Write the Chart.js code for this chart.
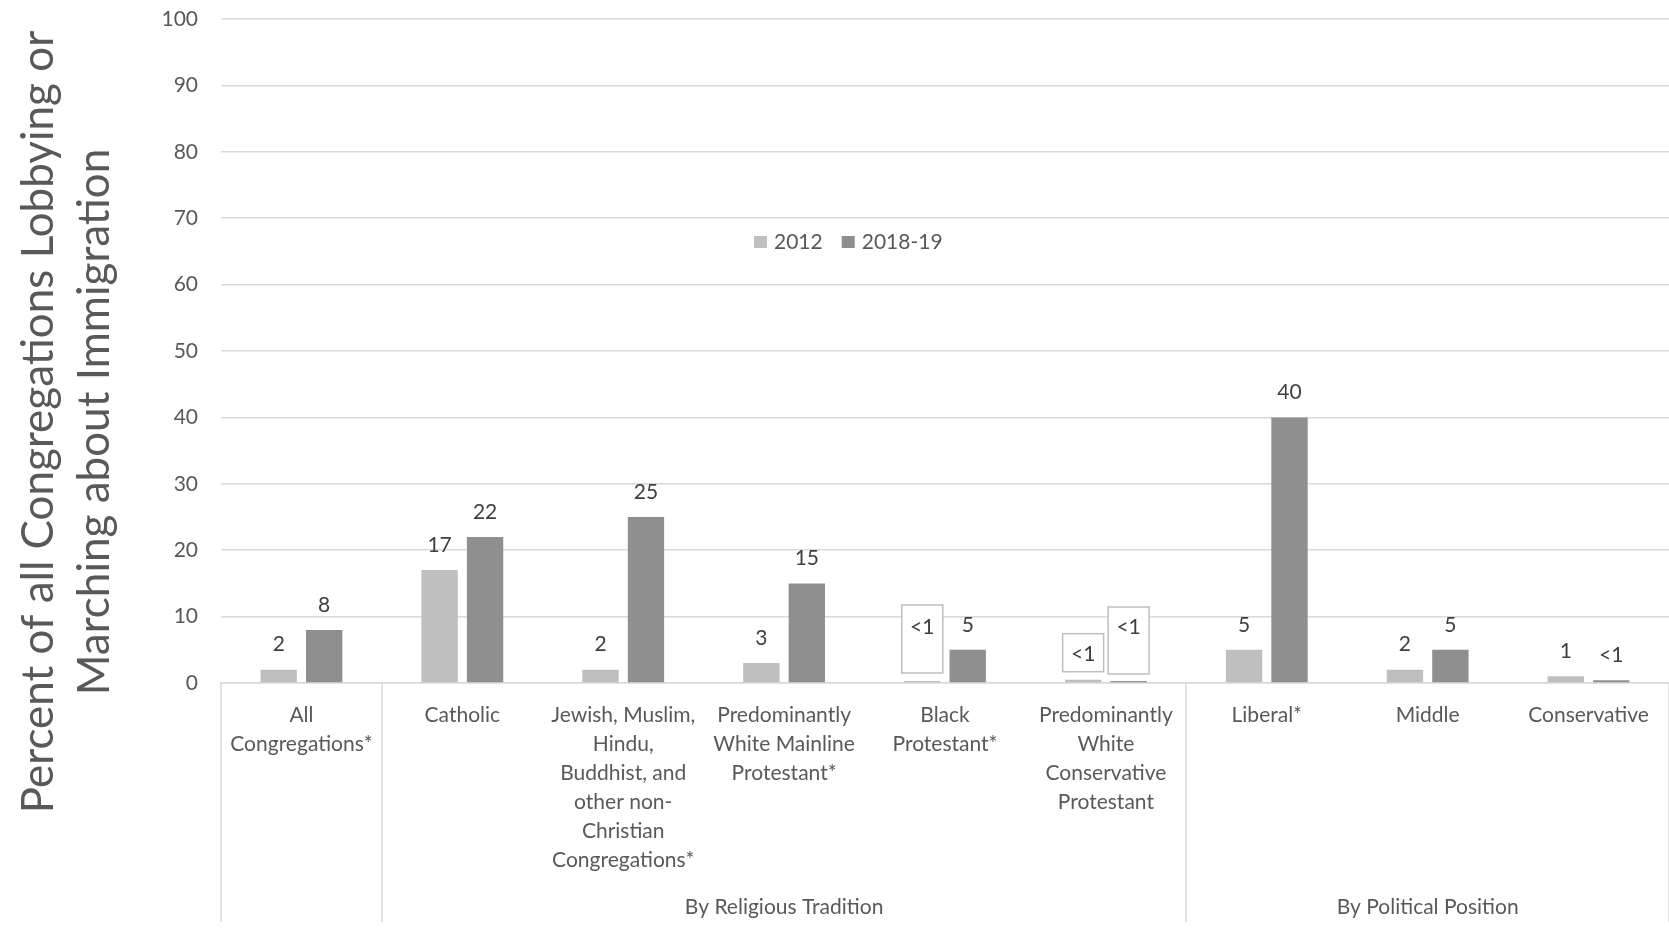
<!DOCTYPE html>
<html>
<head>
<meta charset="utf-8">
<script src="https://cdn.jsdelivr.net/npm/chart.js@4.4.1/dist/chart.umd.min.js"></script>
<style>
  html, body { margin: 0; padding: 0; background: #ffffff; }
  #wrap { width: 1669px; height: 935px; position: relative; }
</style>
</head>
<body>
<div id="wrap"><canvas id="chart"></canvas></div>
<script>
// Category labels (multi-line) for the lower axis
const categories = [
  ['All', 'Congregations*'],
  ['Catholic'],
  ['Jewish, Muslim,', 'Hindu,', 'Buddhist, and', 'other non-', 'Christian', 'Congregations*'],
  ['Predominantly', 'White Mainline', 'Protestant*'],
  ['Black', 'Protestant*'],
  ['Predominantly', 'White', 'Conservative', 'Protestant'],
  ['Liberal*'],
  ['Middle'],
  ['Conservative']
];

// Series
const seriesNames = ['2012', '2018-19'];
const values2012 = [2, 17, 2, 3, 0.3, 0.5, 5, 2, 1];
const values2018 = [8, 22, 25, 15, 5, 0.3, 40, 5, 0.4];

// Outer grouping of the categories
const groupNames = ['', 'By Religious Tradition', 'By Political Position'];
const groupFirst = [0, 1, 6];
const groupLast  = [0, 5, 8];

// Value axis
const yTicks = [0, 10, 20, 30, 40, 50, 60, 70, 80, 90, 100];
const axisTitle = ['Percent of all Congregations Lobbying or', 'Marching about Immigration'];

const FONT = 'Lato';
const TEXT = '#595959';
const LABEL = '#404040';
const LINE = '#d9d9d9';
const COLORS = ['#bfbfbf', '#8f8f8f'];

// Labels that sit in outlined callout boxes: lift of text centre above bar top, box extents around text centre
const boxedLabels = [
  { dataset: 0, index: 4, lift: 54, up: 22, down: 46 },
  { dataset: 0, index: 5, lift: 25, up: 21, down: 17 },
  { dataset: 1, index: 5, lift: 54, up: 20, down: 47 }
];

const fmt = v => (v < 1 ? '<1' : String(v));

const decorations = {
  id: 'decorations',
  afterDatasetsDraw(chart) {
    const ctx = chart.ctx;
    ctx.save();
    ctx.font = `21px ${FONT}`;
    ctx.textAlign = 'center';
    ctx.textBaseline = 'middle';
    chart.data.datasets.forEach((ds, di) => {
      const meta = chart.getDatasetMeta(di);
      meta.data.forEach((bar, i) => {
        const text = fmt(ds.data[i]);
        const box = boxedLabels.find(b => b.dataset === di && b.index === i);
        if (box) {
          const ty = bar.y - box.lift;
          const w = 41;
          ctx.fillStyle = '#ffffff';
          ctx.fillRect(bar.x - w / 2, ty - box.up, w, box.up + box.down);
          ctx.strokeStyle = '#bfbfbf';
          ctx.lineWidth = 1.5;
          ctx.strokeRect(bar.x - w / 2, ty - box.up, w, box.up + box.down);
          ctx.fillStyle = LABEL;
          ctx.fillText(text, bar.x, ty);
        } else {
          ctx.fillStyle = LABEL;
          ctx.fillText(text, bar.x, bar.y - 25);
        }
      });
    });
    ctx.restore();
  },
  afterDraw(chart) {
    const ctx = chart.ctx;
    const x = chart.scales.x;
    const area = chart.chartArea;
    const half = (x.getPixelForValue(1) - x.getPixelForValue(0)) / 2;
    ctx.save();

    // group separators and group labels
    ctx.strokeStyle = LINE;
    ctx.lineWidth = 1.5;
    const edges = new Set();
    groupFirst.forEach((f, g) => {
      edges.add(Math.round(x.getPixelForValue(f) - half));
      edges.add(Math.round(x.getPixelForValue(groupLast[g]) + half));
    });
    edges.forEach(px => {
      ctx.beginPath();
      ctx.moveTo(px, area.bottom);
      ctx.lineTo(px, area.bottom + 239);
      ctx.stroke();
    });
    ctx.fillStyle = TEXT;
    ctx.font = `21px ${FONT}`;
    ctx.textAlign = 'center';
    ctx.textBaseline = 'middle';
    groupNames.forEach((name, g) => {
      if (!name) return;
      const cx = (x.getPixelForValue(groupFirst[g]) + x.getPixelForValue(groupLast[g])) / 2;
      ctx.fillText(name, cx, area.bottom + 224);
    });

    // legend
    let lx = 754;
    const ly = 242;
    ctx.textAlign = 'left';
    chart.data.datasets.forEach(ds => {
      ctx.fillStyle = ds.backgroundColor;
      ctx.fillRect(lx, ly - 6, 13, 12);
      ctx.fillStyle = TEXT;
      ctx.fillText(ds.label, lx + 20, ly);
      lx += 20 + ctx.measureText(ds.label).width + 19;
    });

    // value axis title
    ctx.font = `44px ${FONT}`;
    ctx.textAlign = 'center';
    ctx.fillStyle = TEXT;
    ctx.translate(39, 422);
    ctx.rotate(-Math.PI / 2);
    axisTitle.forEach((line, k) => ctx.fillText(line, 0, k * 56));
    ctx.restore();
  }
};

new Chart(document.getElementById('chart'), {
  type: 'bar',
  data: {
    labels: categories,
    datasets: [
      { label: seriesNames[0], data: values2012, backgroundColor: COLORS[0] },
      { label: seriesNames[1], data: values2018, backgroundColor: COLORS[1] }
    ]
  },
  options: {
    responsive: true,
    maintainAspectRatio: false,
    animation: false,
    layout: { padding: { top: 19, right: 0, bottom: 0, left: 0 } },
    datasets: { bar: { categoryPercentage: 0.565, barPercentage: 0.8 } },
    plugins: { legend: { display: false }, tooltip: { enabled: false } },
    scales: {
      x: {
        grid: { display: false, drawTicks: false },
        border: { display: true, color: LINE, width: 1.5 },
        ticks: {
          autoSkip: false, maxRotation: 0, minRotation: 0,
          padding: 17.5,
          color: TEXT,
          font: { family: FONT, size: 21, lineHeight: 1.381 }
        },
        afterFit(scale) {
          scale.height = 252;
          scale.paddingTop = 0; scale.paddingBottom = 0;
        }
      },
      y: {
        min: 0, max: 100,
        afterBuildTicks(scale) { scale.ticks = yTicks.map(v => ({ value: v })); },
        grid: { color: LINE, lineWidth: 1.5, drawTicks: false },
        border: { display: false },
        ticks: {
          padding: 23,
          color: TEXT,
          font: { family: FONT, size: 21 }
        },
        afterFit(scale) {
          scale.width = 221;
          scale.paddingTop = 0; scale.paddingBottom = 0;
        }
      }
    }
  },
  plugins: [decorations]
});
</script>
</body>
</html>
